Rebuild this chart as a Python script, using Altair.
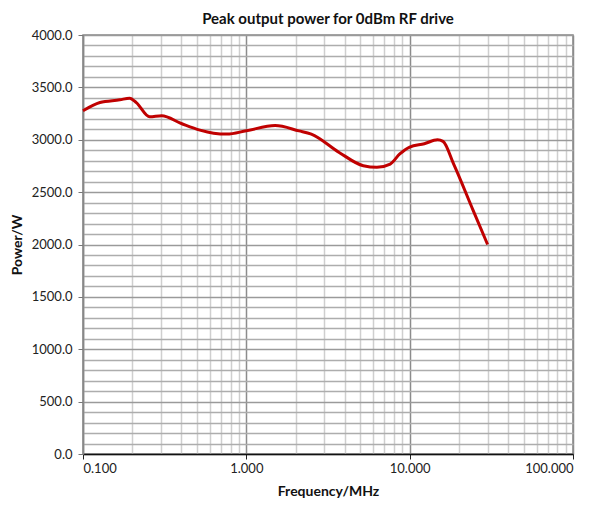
import altair as alt
import pandas as pd

freq_mhz = [0.1, 0.127, 0.168, 0.193, 0.212, 0.256, 0.303, 0.40, 0.52, 0.63, 0.76,
            1.0, 1.5, 2.1, 2.5, 3.7, 5.2, 6.3, 7.6, 8.7, 10.0, 12.3, 14.8, 16.0,
            18.6, 24.5, 30.0]
power_w = [3276, 3355, 3381, 3397, 3355, 3219, 3229, 3155, 3092, 3063, 3054,
           3086, 3135, 3085, 3054, 2879, 2752, 2737, 2768, 2864, 2930, 2962, 3000,
           2985, 2768, 2324, 2000]

x_grid_values = [m * 10.0 ** e for e in (-1, 0, 1) for m in range(1, 10)] + [100.0]
x_grid_values = [float(f"{v:.6g}") for v in x_grid_values]
y_grid_values = list(range(0, 4001, 100))

df = pd.DataFrame({"f": freq_mhz, "p": power_w})

is_decade = "abs(log(datum.value)/LN10 - round(log(datum.value)/LN10)) < 1e-6"
is_major_y = "datum.value % 500 == 0"

font = "Lato"

chart = alt.Chart(df).mark_line(
    color="#C00000", strokeWidth=3, interpolate="monotone"
).encode(
    x=alt.X(
        "f:Q",
        scale=alt.Scale(type="log", domain=[0.1, 100], nice=False),
        title="Frequency/MHz",
        axis=alt.Axis(
            values=x_grid_values,
            labelExpr=f"({is_decade}) ? format(datum.value, '.3f') : ''",
            grid=True,
            gridColor={"condition": {"test": is_decade, "value": "#8C8C8C"}, "value": "#CFCFCF"},
            gridWidth=1.5,
            tickColor={"condition": {"test": is_decade, "value": "#222222"}, "value": "transparent"},
            tickSize=5,
            domainColor="#111111",
            domainWidth=1.5,
            labelFont=font, labelFontSize=13, labelColor="#222222", labelPadding=3,
            titleFont=font, titleFontSize=14, titleFontWeight="bold", titleColor="#111111",
            titlePadding=9,
        ),
    ),
    y=alt.Y(
        "p:Q",
        scale=alt.Scale(domain=[0, 4000], nice=False),
        title="Power/W",
        axis=alt.Axis(
            values=y_grid_values,
            labelExpr=f"({is_major_y}) ? format(datum.value, '.1f') : ''",
            grid=True,
            gridColor={"condition": {"test": is_major_y, "value": "#9A9A9A"}, "value": "#ADADAD"},
            gridWidth=1.5,
            tickColor={"condition": {"test": is_major_y, "value": "#777777"}, "value": "transparent"},
            tickSize=5,
            domainColor="#888888",
            domainWidth=1.5,
            labelFont=font, labelFontSize=13, labelColor="#222222", labelPadding=6,
            titleFont=font, titleFontSize=14, titleFontWeight="bold", titleColor="#111111",
            titlePadding=7,
        ),
    ),
).properties(
    width=490,
    height=419,
    title=alt.TitleParams(
        "Peak output power for 0dBm RF drive",
        font=font, fontSize=15, fontWeight="bold", color="#111111", offset=2,
    ),
    autosize=alt.AutoSizeParams(type="none"),
    padding={"left": 75, "top": 27, "right": 13, "bottom": 50},
).configure_view(
    stroke="#888888", strokeWidth=1.5
)

chart.save("out.html", embed_options={"renderer": "svg", "actions": False})
